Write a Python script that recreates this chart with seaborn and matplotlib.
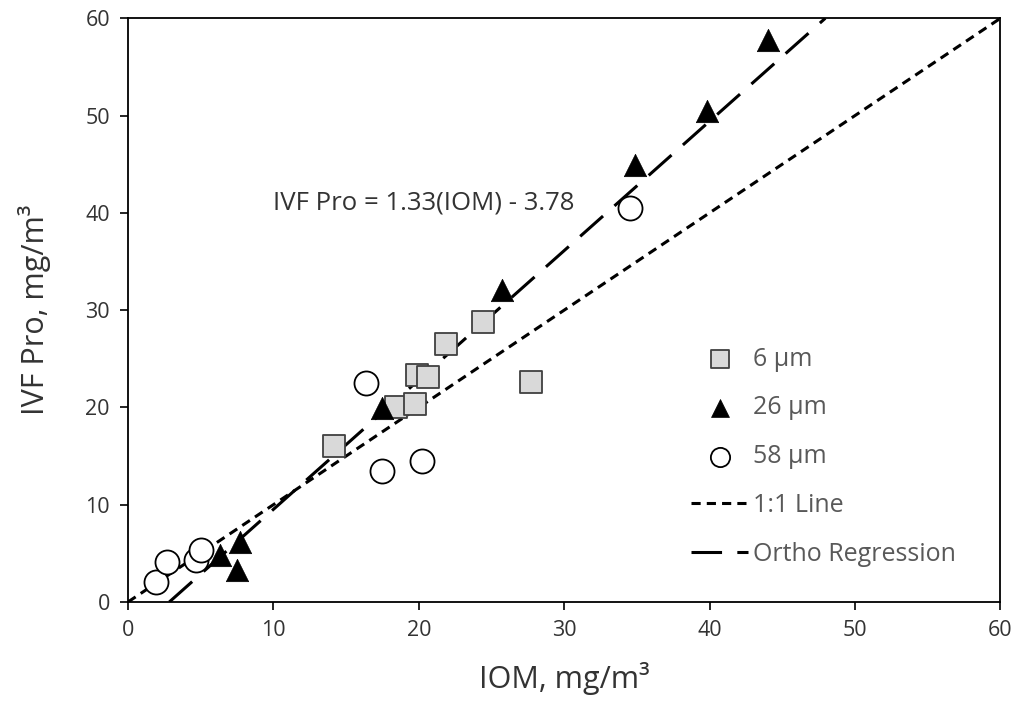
import matplotlib
matplotlib.use('Agg')
import matplotlib.pyplot as plt
import numpy as np
import seaborn as sns

# Datos (IOM vs IVF Pro, mg/m3)
iom_6 = [14.2, 18.4, 19.75, 19.9, 20.6, 21.9, 24.4, 27.7]
ivf_6 = [16.0, 20.0, 20.3, 23.3, 23.1, 26.5, 28.8, 22.6]

iom_26 = [6.3, 7.5, 7.7, 17.5, 25.7, 34.9, 39.8, 44.0]
ivf_26 = [4.8, 3.3, 6.2, 19.9, 32.1, 44.9, 50.5, 57.8]

iom_58 = [1.9, 2.7, 4.7, 5.0, 16.4, 17.5, 20.2, 34.5]
ivf_58 = [2.1, 4.1, 4.3, 5.3, 22.5, 13.5, 14.5, 40.5]

pendiente = 1.33
ordenada = -3.78
linea_11 = [0, 60]

sns.set_style('white')
plt.rcParams['font.family'] = ['Open Sans', 'DejaVu Sans']
gris = '#595959'
texto = '#333333'

fig = plt.figure(figsize=(10.24, 7.02), dpi=100)
ax = fig.add_axes([0.125, 0.1425, 0.852, 0.8315])

# Líneas
sns.lineplot(x=linea_11, y=linea_11, ax=ax, color='black', lw=2.2,
             label='1:1 Line', zorder=2).lines[-1].set_dashes([3, 2])
x_reg = np.array([-ordenada / pendiente, (60 - ordenada) / pendiente])
sns.lineplot(x=x_reg, y=pendiente * x_reg + ordenada, ax=ax, color='black', lw=2.2,
             label='Ortho Regression', zorder=2).lines[-1].set_dashes([10, 5])

# Puntos
sns.scatterplot(x=iom_6, y=ivf_6, ax=ax, marker='s', s=260, color='#d9d9d9',
                edgecolor='#404040', linewidth=1.3, label='6 µm', zorder=3)
sns.scatterplot(x=iom_26, y=ivf_26, ax=ax, marker='^', s=260, color='black',
                edgecolor='black', linewidth=0.5, label='26 µm', zorder=3)
sns.scatterplot(x=iom_58, y=ivf_58, ax=ax, marker='o', s=300, color='white',
                edgecolor='black', linewidth=1.3, label='58 µm', zorder=3)

ax.text(10, 41.0, 'IVF Pro = 1.33(IOM) - 3.78', fontsize=18.5, color=texto, va='center')

ax.set_xlim(0, 60)
ax.set_ylim(0, 60)
ax.set_xticks(range(0, 61, 10))
ax.set_yticks(range(0, 61, 10))
ax.tick_params(axis='both', direction='out', length=6, width=1.2, colors='black',
               labelcolor=texto, labelsize=15.5, bottom=True, left=True, pad=7)
for s in ax.spines.values():
    s.set_color('black')
    s.set_linewidth(1.3)

ax.set_xlabel('IOM, mg/m³', fontsize=22, color=texto, labelpad=15)
ax.set_ylabel('IVF Pro, mg/m³', fontsize=22, color=texto, labelpad=25)

handles, labels = ax.get_legend_handles_labels()
orden = [2, 3, 4, 0, 1]
leg = ax.legend([handles[i] for i in orden], [labels[i] for i in orden],
                loc='center left', bbox_to_anchor=(0.62, 0.249), frameon=False,
                fontsize=18, labelspacing=0.95, handlelength=2.25, markerscale=0.8,
                handletextpad=0.2)
for t in leg.get_texts():
    t.set_color(gris)

fig.savefig('out.png', dpi=100)
